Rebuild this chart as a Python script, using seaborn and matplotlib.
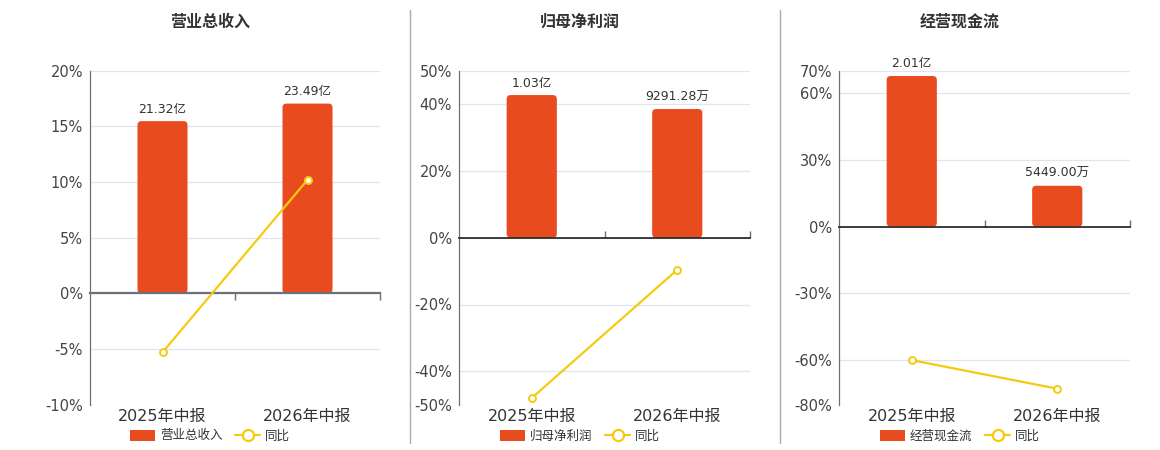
import matplotlib
matplotlib.use('Agg')
import matplotlib.pyplot as plt
from matplotlib.patches import FancyBboxPatch, Patch
from matplotlib.lines import Line2D
import seaborn as sns

# ---- data ----
periods = ['2025年中报', '2026年中报']
titles = ['营业总收入', '归母净利润', '经营现金流']

# bar values (亿元)
revenue = [21.32, 23.49]
net_profit = [1.03, 0.929128]
cash_flow = [2.01, 0.5449]
revenue_labels = ['21.32亿', '23.49亿']
profit_labels = ['1.03亿', '9291.28万']
cash_labels = ['2.01亿', '5449.00万']

# year-over-year growth (%)
revenue_yoy = [-5.3, 10.2]
profit_yoy = [-48.0, -9.6]
cash_yoy = [-60.0, -72.8]

# percent axis ticks (first/last are the limits)
revenue_ticks = [-10, -5, 0, 5, 10, 15, 20]
profit_ticks = [-50, -40, -20, 0, 20, 40, 50]
cash_ticks = [-80, -60, -30, 0, 30, 60, 70]

# top of the hidden bar axis (亿), zero kept aligned with 0%
bar_axis_top = [27.56, 1.206, 2.081]

panels = [
    (titles[0], revenue, revenue_labels, revenue_yoy, revenue_ticks, bar_axis_top[0]),
    (titles[1], net_profit, profit_labels, profit_yoy, profit_ticks, bar_axis_top[1]),
    (titles[2], cash_flow, cash_labels, cash_yoy, cash_ticks, bar_axis_top[2]),
]

sns.set_theme(style='white')
plt.rcParams['font.family'] = ['DejaVu Sans', 'Noto Sans CJK SC']
plt.rcParams['axes.unicode_minus'] = False

BAR = '#E84C1E'
LINE = '#F5CB11'
AXIS = '#6E7079'
GRID = '#E0E6F1'
TEXT = '#333333'

W, H = 1160, 450
fig = plt.figure(figsize=(W / 100, H / 100), dpi=100)

# axes rectangles in pixels: left, right
ax_px = [(90, 380), (459, 750), (839, 1130)]
top_px, bottom_px = 70.7, 404.7
title_x = [210, 580, 960]
sep_x = [410, 780]

for i, (title, bars, labels, yoy, ticks, btop) in enumerate(panels):
    l, r = ax_px[i]
    rect = [l / W, 1 - bottom_px / H, (r - l) / W, (bottom_px - top_px) / H]
    ax = fig.add_axes(rect)
    ymin, ymax = ticks[0], ticks[-1]

    # percent axis: grid, left spine, tick labels
    ax.set_ylim(ymin, ymax)
    ax.set_yticks(ticks)
    ax.set_yticklabels([f'{t}%' for t in ticks], fontsize=10.5, color='#444444')
    ax.grid(axis='y', color=GRID, linewidth=0.9)
    ax.set_axisbelow(True)
    for s in ['top', 'right', 'bottom']:
        ax.spines[s].set_visible(False)
    ax.spines['left'].set_color(AXIS)
    ax.spines['left'].set_linewidth(0.9)
    ax.tick_params(axis='y', length=0, pad=5)

    # bars on a twin axis
    ax_bar = ax.twinx()
    sns.barplot(x=periods, y=bars, ax=ax_bar, color=BAR, width=0.345,
                saturation=1, edgecolor='none')
    ax_bar.set_ylim(btop * ymin / ymax, btop)
    ax_bar.set_xlim(-0.5, 1.5)
    ax_bar.axis('off')

    # round the bar tops
    inv = ax_bar.transData
    x0p, y0p = inv.transform((0, 0))
    x1p, y1p = inv.transform((1, 1))
    aspect = (x1p - x0p) / (y1p - y0p)
    rad = 4 / (x1p - x0p)
    for p in list(ax_bar.patches):
        fb = FancyBboxPatch((p.get_x(), p.get_y()), p.get_width(), p.get_height(),
                            boxstyle=f'round,pad=0,rounding_size={rad}',
                            mutation_aspect=aspect, facecolor=BAR, edgecolor='none')
        ax_bar.add_patch(fb)
        p.set_visible(False)
    ax_bar.bar_label(ax_bar.containers[0], labels=labels, padding=4,
                     fontsize=9, color=TEXT)

    # yoy line on top
    ax_line = ax_bar.twinx()
    sns.lineplot(x=periods, y=yoy, ax=ax_line, color=LINE, linewidth=1.6,
                 marker='o', markersize=5, markerfacecolor='white',
                 markeredgecolor=LINE, markeredgewidth=1.4)
    ax_line.set_ylim(ymin, ymax)
    ax_line.set_xlim(-0.5, 1.5)
    ax_line.axis('off')

    # category labels at bottom
    ax.set_xticks([0, 1])
    ax.set_xticklabels(periods, fontsize=11.5, color=TEXT)
    ax.tick_params(axis='x', length=0, pad=3)

    # zero axis line with boundary ticks
    zero_frac = (0 - ymin) / (ymax - ymin)
    zx = ax_line.secondary_xaxis(zero_frac)
    zx.spines['bottom'].set_color(AXIS)
    zx.spines['bottom'].set_linewidth(1.6)
    zx.set_xticks([0.5, 1.5])
    zx.set_xticklabels([])
    zx.tick_params(length=5, width=1, color=AXIS, direction='out')

    fig.text(title_x[i] / W, 1 - 22 / H, title, ha='center', va='center',
             fontsize=11.5, fontweight='bold', color=TEXT)

    handles = [
        Patch(facecolor=BAR, edgecolor='none', label=title),
        Line2D([0], [0], color=LINE, linewidth=1.6, marker='o', markersize=8,
               markerfacecolor='white', markeredgecolor=LINE, markeredgewidth=1.6,
               label='同比'),
    ]
    fig.legend(handles=handles, loc='center', ncol=2, frameon=False,
               bbox_to_anchor=(title_x[i] / W, 14 / H), fontsize=9,
               labelcolor=TEXT, handlelength=2.0, handleheight=1.0,
               handletextpad=0.4, columnspacing=1.0)

for x in sep_x:
    fig.add_artist(Line2D([x / W, x / W], [1 - 10 / H, 1 - 443 / H],
                          color='#AAAAAA', linewidth=1))

fig.savefig('out.png', dpi=100)
